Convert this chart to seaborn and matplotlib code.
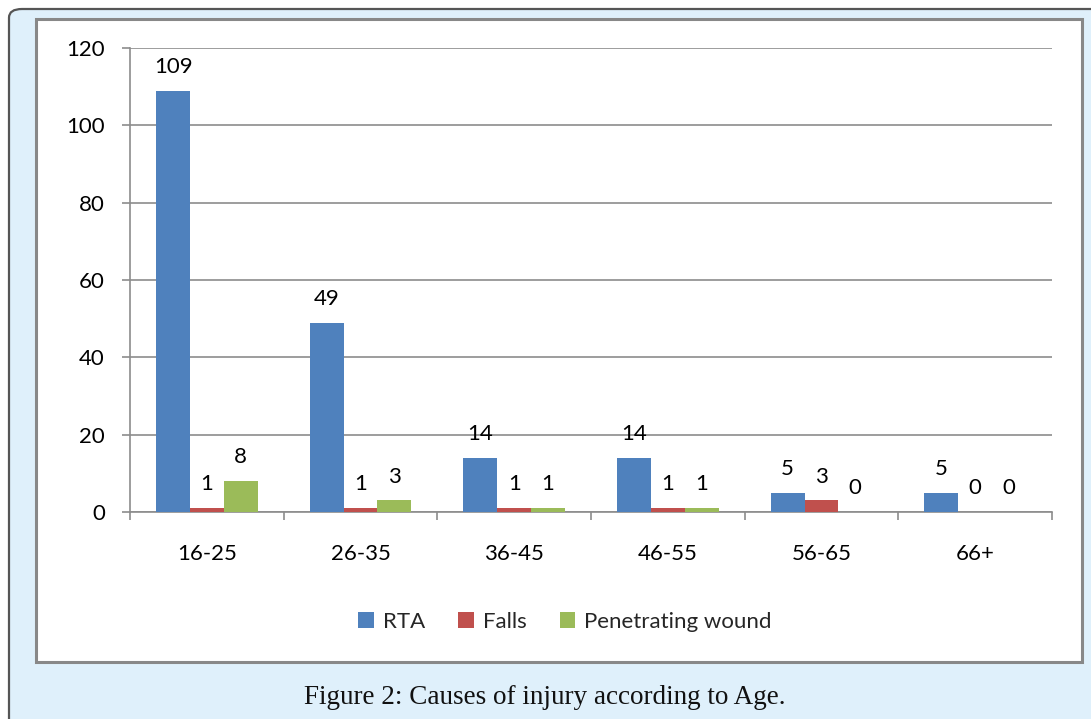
import matplotlib
matplotlib.use("Agg")
import matplotlib.pyplot as plt
import seaborn as sns
import pandas as pd
from matplotlib.patches import FancyBboxPatch, Rectangle, Patch

# ---- data ----
age_groups = ["16-25", "26-35", "36-45", "46-55", "56-65", "66+"]
causes = ["RTA", "Falls", "Penetrating wound"]
rta = [109, 49, 14, 14, 5, 5]
falls = [1, 1, 1, 1, 3, 0]
penetrating = [8, 3, 1, 1, 0, 0]
colors = ["#4f81bd", "#c0504d", "#9bbb59"]
caption = "Figure 2: Causes of injury according to Age."

rows = []
for cause, vals in zip(causes, [rta, falls, penetrating]):
    for g, v in zip(age_groups, vals):
        rows.append({"Age": g, "Cause": cause, "Count": v})
df = pd.DataFrame(rows)

sns.set_theme(style="white")
plt.rcParams["font.family"] = ["Lato", "DejaVu Sans"]

W, H = 1091, 719
fig = plt.figure(figsize=(W / 100, H / 100), dpi=100)
fig.patch.set_facecolor("white")

# outer light-blue panel with rounded corner
outer = FancyBboxPatch((9 / W, -0.2), 1.2, 1 - 9 / H + 0.2,
                       boxstyle="round,pad=0,rounding_size=0.012",
                       transform=fig.transFigure, facecolor="#dff0fb",
                       edgecolor="#555555", linewidth=1.6, zorder=0)
fig.patches.append(outer)
# inner white chart box
inner = Rectangle((36 / W, 1 - 662 / H), (1082 - 36) / W, (662 - 19) / H,
                  transform=fig.transFigure, facecolor="white",
                  edgecolor="#888888", linewidth=2.2, zorder=1)
fig.patches.append(inner)

ax = fig.add_axes([130 / W, 1 - 512 / H, (1052 - 130) / W, (512 - 48) / H])
ax.set_facecolor("none")
ax.set_zorder(2)

sns.barplot(data=df, x="Age", y="Count", hue="Cause", order=age_groups,
            hue_order=causes, palette=colors, width=0.66, saturation=1,
            legend=False, ax=ax, zorder=3, linewidth=0)

for cont, vals in zip(ax.containers, [rta, falls, penetrating]):
    ax.bar_label(cont, labels=[str(v) for v in vals], padding=10,
                 fontsize=16, color="black")

ax.set_ylim(0, 120)
ax.set_yticks(range(0, 121, 20))
ax.set_xlim(-0.5, len(age_groups) - 0.5)
ax.grid(axis="y", color="#8c8c8c", linewidth=1.2, zorder=0)
ax.set_axisbelow(True)
for s in ["top", "right"]:
    ax.spines[s].set_visible(False)
for s in ["left", "bottom"]:
    ax.spines[s].set_color("#8c8c8c")
    ax.spines[s].set_linewidth(1.2)

ax.set_xlabel("")
ax.set_ylabel("")
ax.tick_params(axis="y", left=True, length=6, width=1.2, color="#8c8c8c",
               pad=12, labelsize=16, labelcolor="black")
ax.set_xticks([i - 0.5 for i in range(len(age_groups) + 1)], minor=True)
ax.tick_params(axis="x", which="minor", bottom=True, length=6, width=1.2,
               color="#8c8c8c")
ax.tick_params(axis="x", which="major", bottom=False, length=0, pad=23,
               labelsize=16, labelcolor="black")

handles = [Patch(facecolor=c, edgecolor="none", label=l) for c, l in zip(colors, causes)]
fig.legend(handles=handles, loc="center", bbox_to_anchor=(565 / W, 1 - 622 / H),
           ncol=3, frameon=False, fontsize=16, handlelength=0.7,
           handleheight=0.7, handletextpad=0.4, columnspacing=1.5)

fig.text(545 / W, 1 - 698 / H, caption, ha="center", va="center",
         fontsize=19.5, family=["Liberation Serif", "DejaVu Serif"], color="#111111")

fig.savefig("out.png", dpi=100)
